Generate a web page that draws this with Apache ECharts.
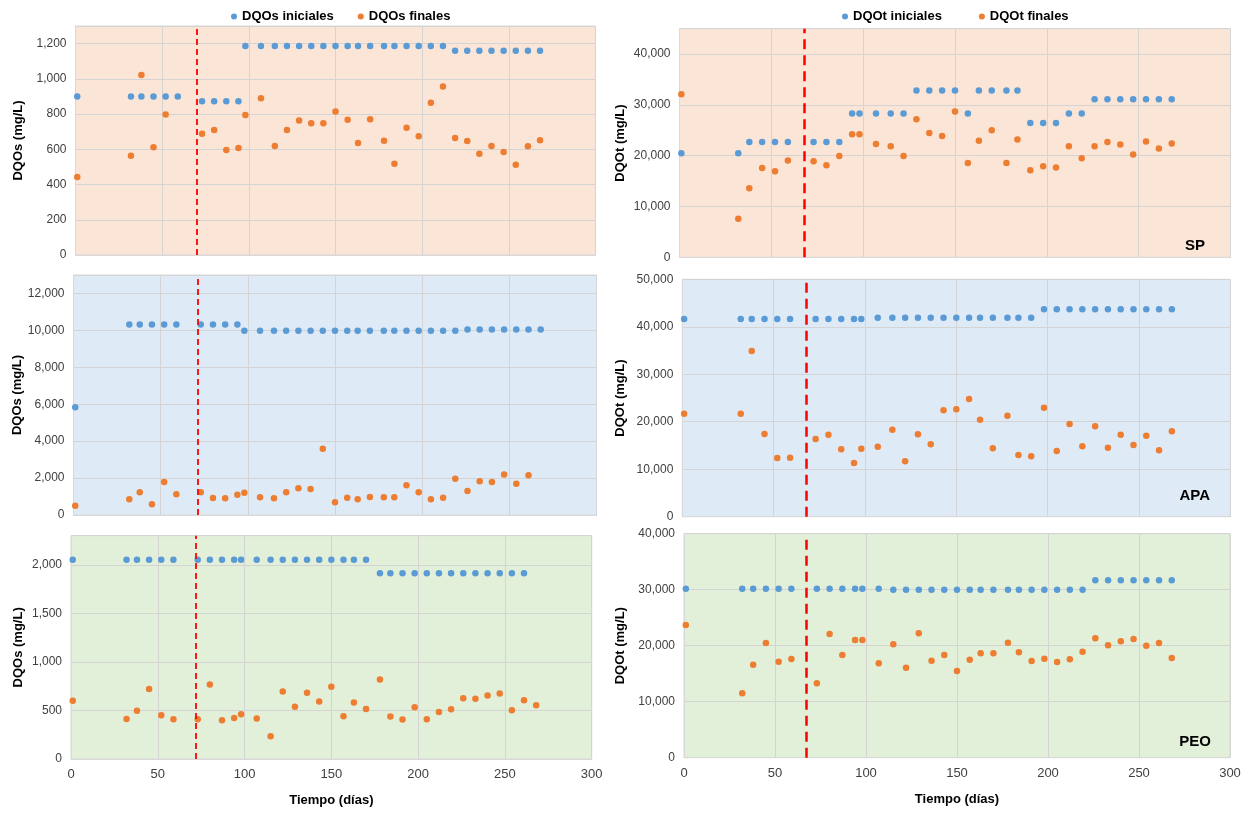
<!DOCTYPE html>
<html>
<head>
<meta charset="utf-8">
<script src="https://cdn.jsdelivr.net/npm/echarts@6/dist/echarts.min.js"></script>
<style>
  html, body { margin: 0; padding: 0; background: #fff; }
  #main { width: 1251px; height: 813px; }
</style>
</head>
<body>
<div id="main"></div>
<script>
// días de muestreo (comunes a los seis paneles)
var days = [1, 32, 38, 45, 52, 59, 73, 80, 87, 94, 98, 107, 115, 122, 129, 136, 143, 150, 157, 163,
  170, 178, 184, 191, 198, 205, 212, 219, 226, 233, 240, 247, 254, 261, 268];

// SP - DQOs
var spSolIni = [900, 900, 900, 900, 900, 900, 873, 873, 873, 873, 1187, 1187, 1187, 1187, 1187, 1187, 1187, 1187,
  1187, 1187, 1187, 1187, 1187, 1187, 1187, 1187, 1187, 1160, 1160, 1160, 1160, 1160, 1160, 1160, 1160];
var spSolFin = [443, 564, 1022, 611, 797, null, 689, 710, 596, 608, 795, 890, 619, 710, 763, 748, 748, 814,
  768, 636, 770, 649, 518, 723, 674, 865, 956, 664, 647, 575, 619, 585, 513, 617, 651];

// APA - DQOs
var apaSolIni = [5830, 10320, 10320, 10320, 10320, 10320, 10320, 10320, 10320, 10320, 9976, 9976, 9976, 9976,
  9976, 9976, 9976, 9976, 9976, 9976, 9976, 9976, 9976, 9976, 9976, 9976, 9976, 9976,
  10050, 10050, 10050, 10050, 10050, 10050, 10050];
var apaSolFin = [503, 850, 1229, 579, 1786, 1120, 1229, 920, 902, 1100, 1210, 958, 902, 1229, 1445, 1407, 3590,
  686, 938, 850, 974, 958, 958, 1606, 1229, 850, 938, 1967, 1300, 1822, 1786, 2200, 1696, 2148, null];

// PEO - DQOs
var peoSolIni = [2052, 2052, 2052, 2052, 2052, 2052, 2052, 2052, 2052, 2052, 2052, 2052, 2052, 2052, 2052, 2052,
  2052, 2052, 2052, 2052, 2052, 1914, 1914, 1914, 1914, 1914, 1914, 1914, 1914, 1914, 1914, 1914, 1914, 1914, null];
var peoSolFin = [599, 413, 496, 720, 451, 410, 410, 768, 400, 423, 461, 416, 234, 695, 537, 682, 592, 744, 441,
  582, 516, 819, 437, 406, 534, 410, 485, 513, 627, 620, 654, 675, 503, 606, 554];

// SP - DQOt
var spTotIni = [20490, 20490, 22720, 22720, 22720, 22720, 22720, 22720, 22720, 28300, 28300, 28300, 28300, 28300,
  32830, 32830, 32830, 32830, 28300, 32830, 32830, 32830, 32830, 26460, 26460, 26460, 28300, 28300,
  31130, 31130, 31130, 31130, 31130, 31130, 31130];
var spTotFin = [32110, 7610, 13590, 17600, 16940, 19040, 18910, 18130, 19960, 24230, 24230, 22320, 21870, 19960,
  27190, 24490, 23900, 28690, 18580, 22920, 25020, 18580, 23180, 17140, 17930, 17660, 21870, 19510,
  21870, 22720, 22190, 20220, 22780, 21400, 22390];

// APA - DQOt
var apaTotIni = [41640, 41640, 41640, 41640, 41640, 41640, 41640, 41640, 41640, 41640, 41640, 41920, 41920, 41920,
  41920, 41920, 41920, 41920, 41920, 41920, 41920, 41920, 41920, 41920, 43680, 43680, 43680, 43680,
  43680, 43680, 43680, 43680, 43680, 43680, 43680];
var apaTotFin = [21690, 21690, 34900, 17420, 12360, 12430, 16360, 17270, 14190, 11310, 14330, 14740, 18320, 11660,
  17350, 15250, 22400, 22620, 24790, 20430, 14400, 21270, 12990, 12720, 22960, 13840, 19520, 14830,
  19040, 14530, 17270, 15100, 17060, 13980, 17980];

// PEO - DQOt
var peoTotIni = [30180, 30180, 30180, 30180, 30180, 30180, 30180, 30180, 30180, 30180, 30180, 30180, 30000, 30000,
  30000, 30000, 30000, 30000, 30000, 30000, 30000, 30000, 30000, 30000, 30000, 30000, 30000, 30000,
  31680, 31680, 31680, 31680, 31680, 31680, 31680];
var peoTotFin = [23700, 11500, 16610, 20480, 17140, 17620, 13280, 22090, 18330, 21010, 21010, 16850, 20240, 16070,
  22210, 17320, 18330, 15480, 17500, 18640, 18640, 20540, 18820, 17260, 17680, 17090, 17570, 18930,
  21320, 20070, 20790, 21200, 20000, 20480, 17800];

// día del cambio (línea roja discontinua)
var cambioIzq = [70, 71, 72];
var cambioDer = [67.9, 67.6, 67.2];

var panelNames = ['SP', 'APA', 'PEO'];
var yMaxSol = [1300, 13000, 2300];
var yStepSol = [200, 2000, 500];
var yMaxTot = [45000, 50000, 40000];
var yStepTot = [10000, 10000, 10000];

function pairs(ys) {
  var out = [];
  days.forEach(function (d, i) {
    if (ys[i] != null) out.push([d, ys[i]]);
  });
  return out;
}

var BLUE = '#5B9BD5';
var ORANGE = '#ED7D31';
var bgColors = ['#FBE5D6', '#DEEBF7', '#E2F0D9'];
var FONT = 'Liberation Sans, Arial, sans-serif';

// layout de cada panel (px)
var grids = [
  { left: 75.5, top: 26, width: 520, height: 229 },
  { left: 73.5, top: 275, width: 523, height: 240 },
  { left: 71, top: 535.7, width: 520.7, height: 223.3 },
  { left: 679.5, top: 28.7, width: 551, height: 228.6 },
  { left: 682.3, top: 279.3, width: 548, height: 237.4 },
  { left: 684, top: 533.7, width: 546, height: 224 }
];
// posición de las etiquetas SP / APA / PEO
var labelPos = [{ right: 46, top: 238 }, { right: 41, top: 488.5 }, { right: 40, top: 734 }];

var sets = [
  [spSolIni, spSolFin], [apaSolIni, apaSolFin], [peoSolIni, peoSolFin],
  [spTotIni, spTotFin], [apaTotIni, apaTotFin], [peoTotIni, peoTotFin]
];

var chart = echarts.init(document.getElementById('main'));

var option = {
  animation: false,
  legend: [
    {
      data: ['DQOs iniciales', 'DQOs finales'],
      left: 226, top: 5, icon: 'circle', itemWidth: 6, itemHeight: 6, itemGap: 24,
      textStyle: { fontFamily: FONT, fontWeight: 'bold', fontSize: 13, color: '#000' }
    },
    {
      data: ['DQOt iniciales', 'DQOt finales'],
      left: 837, top: 5, icon: 'circle', itemWidth: 6, itemHeight: 6, itemGap: 37,
      textStyle: { fontFamily: FONT, fontWeight: 'bold', fontSize: 13, color: '#000' }
    }
  ],
  grid: [],
  xAxis: [],
  yAxis: [],
  series: [],
  graphic: []
};

grids.forEach(function (g, i) {
  var col = i < 3 ? 0 : 1;
  var row = i % 3;
  var isBottom = row === 2;
  var max = col === 0 ? yMaxSol[row] : yMaxTot[row];
  var step = col === 0 ? yStepSol[row] : yStepTot[row];

  option.grid.push({
    left: g.left, top: g.top, width: g.width, height: g.height,
    show: true, backgroundColor: bgColors[row], borderColor: '#D9D9D9', borderWidth: 1
  });

  option.xAxis.push({
    type: 'value', gridIndex: i, min: 0, max: 300, interval: 50,
    axisLine: { show: true, lineStyle: { color: '#D9D9D9' } },
    axisTick: { show: false },
    splitLine: { show: true, lineStyle: { color: '#D4D4D4' } },
    axisLabel: { show: isBottom, fontFamily: FONT, fontSize: 13, color: '#404040', margin: 9 },
    name: isBottom ? 'Tiempo (días)' : '',
    nameLocation: 'middle', nameGap: 35,
    nameTextStyle: { fontFamily: FONT, fontWeight: 'bold', fontSize: 13, color: '#000' }
  });

  option.yAxis.push({
    type: 'value', gridIndex: i, min: 0, max: max, interval: step,
    axisLine: { show: true, lineStyle: { color: '#D9D9D9' } },
    axisTick: { show: false },
    splitLine: { show: true, lineStyle: { color: '#D4D4D4' } },
    axisLabel: {
      fontFamily: FONT, fontSize: 12, color: '#404040', margin: 9,
      formatter: function (v) { return v % step === 0 ? v.toLocaleString('en-US') : ''; }
    },
    name: col === 0 ? 'DQOs (mg/L)' : 'DQOt (mg/L)',
    nameLocation: 'middle',
    nameGap: col === 0 ? g.left - 25 : g.left - 627,
    nameTextStyle: { fontFamily: FONT, fontWeight: 'bold', fontSize: 13, color: '#000' }
  });

  var names = col === 0 ? ['DQOs iniciales', 'DQOs finales'] : ['DQOt iniciales', 'DQOt finales'];
  var cambio = col === 0 ? cambioIzq[row] : cambioDer[row];

  option.series.push({
    name: names[0], type: 'scatter', xAxisIndex: i, yAxisIndex: i,
    symbolSize: 6.5, itemStyle: { color: BLUE, opacity: 1 },
    data: pairs(sets[i][0]),
    markLine: {
      silent: true, symbol: ['none', 'none'], label: { show: false },
      lineStyle: col === 0
        ? { color: '#FF0000', type: [6, 4], width: 1.8 }
        : { color: '#FF0000', type: [10, 6], width: 2.5 },
      data: [{ xAxis: cambio }]
    }
  });
  option.series.push({
    name: names[1], type: 'scatter', xAxisIndex: i, yAxisIndex: i,
    symbolSize: 6.5, itemStyle: { color: ORANGE, opacity: 1 },
    data: pairs(sets[i][1])
  });

  if (col === 1) {
    option.graphic.push({
      type: 'text',
      right: labelPos[row].right,
      top: labelPos[row].top,
      style: { text: panelNames[row], font: 'bold 15px ' + FONT, fill: '#000' }
    });
  }
});

chart.setOption(option);
</script>
</body>
</html>
